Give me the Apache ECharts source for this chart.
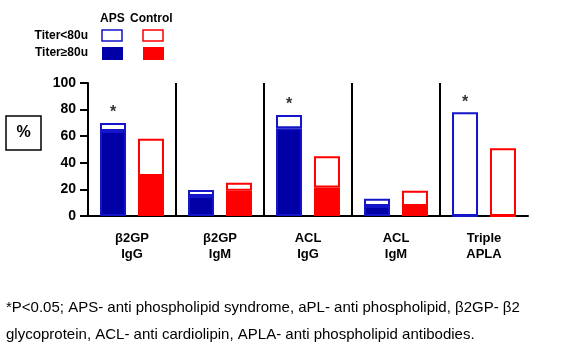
<!DOCTYPE html>
<html>
<head>
<meta charset="utf-8">
<script src="https://cdn.jsdelivr.net/npm/echarts@6/dist/echarts.min.js"></script>
<style>
html,body{margin:0;padding:0;background:#fff;}
#main{width:568px;height:353px;}
</style>
</head>
<body>
<div id="main"></div>
<script>
// values (%)
var categories = ['β2GP\nIgG', 'β2GP\nIgM', 'ACL\nIgG', 'ACL\nIgM', 'Triple\nAPLA'];
var apsHigh = [64, 15, 66, 7.5, 0];      // Titer≥80u, APS
var apsTotal = [70, 19.5, 76, 13, 78];   // all titers, APS
var ctlHigh = [30, 19, 21.5, 7.5, 0];    // Titer≥80u, Control
var ctlTotal = [58, 25, 45, 19, 51];
var significant = [true, false, true, false, true];
var yTicks = [0, 20, 40, 60, 80, 100];

var blue = '#0000a6', blueLine = '#1414c8', red = '#ff0000';
var font = 'Arial, "Liberation Sans", sans-serif';

function rest(total, high){
	return total.map(function(t, i){ return +(t - high[i]).toFixed(2); });
}

var myChart = echarts.init(document.getElementById('main'));

var option = {
	backgroundColor: '#fff',
	animation: false,
	grid: {left: 88, right: 40, top: 83, bottom: 137},
	xAxis: {
		type: 'category',
		data: categories,
		axisLine: {lineStyle: {color: '#000', width: 2}},
		axisTick: {show: false},
		axisLabel: {color: '#000', fontFamily: font, fontWeight: 'bold', fontSize: 13, lineHeight: 16, margin: 14},
		splitLine: {show: true, showMinLine: false, showMaxLine: false, lineStyle: {color: '#000', width: 2}}
	},
	yAxis: {
		type: 'value',
		min: yTicks[0],
		max: yTicks[yTicks.length - 1],
		interval: yTicks[1] - yTicks[0],
		axisLine: {show: true, lineStyle: {color: '#000', width: 2}},
		axisTick: {show: true, length: 8, lineStyle: {color: '#000', width: 2}},
		axisLabel: {color: '#000', fontFamily: font, fontWeight: 'bold', fontSize: 14, margin: 12},
		splitLine: {show: false}
	},
	series: [
		{
			name: 'APS ≥80u', type: 'bar', stack: 'aps', barWidth: 26, barGap: '46%',
			data: apsHigh,
			itemStyle: {color: blue, borderColor: blueLine, borderWidth: 2}
		},
		{
			name: 'Control ≥80u', type: 'bar', stack: 'ctl', barWidth: 26,
			data: ctlHigh,
			itemStyle: {color: red, borderColor: red, borderWidth: 2}
		},
		{
			name: 'APS <80u', type: 'bar', stack: 'aps', barWidth: 26,
			data: rest(apsTotal, apsHigh),
			itemStyle: {color: '#fff', borderColor: blueLine, borderWidth: 2},
			label: {
				show: true, position: 'top', distance: 2,
				color: '#333', fontFamily: font, fontWeight: 'bold', fontSize: 16,
				formatter: function(p){ return significant[p.dataIndex] ? '*' : ''; }
			}
		},
		{
			name: 'Control <80u', type: 'bar', stack: 'ctl', barWidth: 26,
			data: rest(ctlTotal, ctlHigh),
			itemStyle: {color: '#fff', borderColor: red, borderWidth: 2}
		}
	],
	graphic: [
		// legend block
		{type: 'text', left: 100, top: 13, style: {text: 'APS', font: 'bold 12px ' + font, fill: '#000'}},
		{type: 'text', left: 130, top: 13, style: {text: 'Control', font: 'bold 12px ' + font, fill: '#000'}},
		{type: 'text', right: 480, top: 30, style: {text: 'Titer<80u', font: 'bold 12px ' + font, fill: '#000'}},
		{type: 'text', right: 480, top: 47, style: {text: 'Titer≥80u', font: 'bold 12px ' + font, fill: '#000'}},
		{type: 'rect', shape: {x: 102, y: 30, width: 20, height: 11}, style: {fill: '#fff', stroke: blueLine, lineWidth: 1.5}},
		{type: 'rect', shape: {x: 143, y: 30, width: 20, height: 11}, style: {fill: '#fff', stroke: red, lineWidth: 1.5}},
		{type: 'rect', shape: {x: 102, y: 47, width: 21, height: 13}, style: {fill: blue}},
		{type: 'rect', shape: {x: 143, y: 47, width: 21, height: 13}, style: {fill: red}},
		// % box
		{type: 'rect', shape: {x: 6, y: 116, width: 35, height: 34}, style: {fill: '#fff', stroke: '#000', lineWidth: 1.5}},
		{type: 'text', x: 23.5, y: 133, style: {text: '%', font: 'bold 16px ' + font, fill: '#000', align: 'center', verticalAlign: 'middle'}},
		// footnote
		{type: 'text', left: 6, top: 294, style: {
			text: '*P<0.05; APS- anti phospholipid syndrome, aPL- anti phospholipid, β2GP- β2\nglycoprotein, ACL- anti cardiolipin, APLA- anti phospholipid antibodies.',
			font: '15px ' + font, fill: '#000', lineHeight: 27
		}}
	]
};

myChart.setOption(option);
</script>
</body>
</html>
